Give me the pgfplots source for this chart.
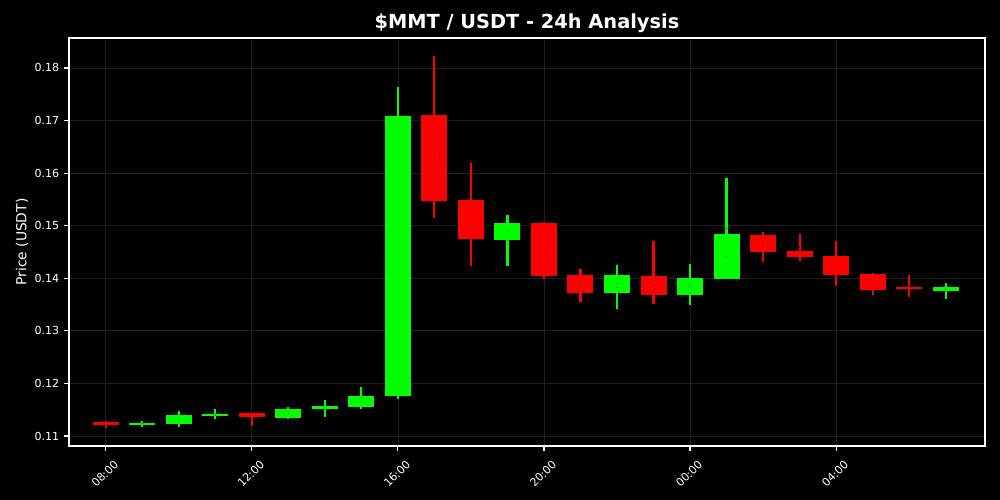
\documentclass[border=0pt]{standalone}
\usepackage{pgfplots}
\pgfplotsset{compat=1.18}
\usepackage{pgfplotstable}
\usepackage{fontspec}
\setmainfont{DejaVu Sans}
\definecolor{cgreen}{HTML}{00FF00}
\definecolor{cred}{HTML}{FF0000}
\definecolor{gridc}{HTML}{1E1E1E}

\pgfplotstableread{
x o h l c
1 0.11215 0.1129 0.1118 0.11247
2 0.11234 0.11476 0.11171 0.11405
3 0.11380 0.1151 0.1132 0.11413
5 0.11348 0.11546 0.11323 0.11514
6 0.11519 0.11685 0.11367 0.11576
7 0.11557 0.11938 0.11514 0.11767
8 0.11761 0.17644 0.1170 0.17087
11 0.14728 0.15204 0.14240 0.15058
14 0.13726 0.14253 0.13410 0.14063
16 0.13682 0.14272 0.13492 0.14006
17 0.13987 0.15908 0.13987 0.14843
23 0.13758 0.13910 0.13606 0.13834
}\greentab

\pgfplotstableread{
x o h l c
0 0.11266 0.1129 0.1116 0.11215
4 0.11432 0.11440 0.11196 0.11367
9 0.17112 0.18234 0.15153 0.15470
10 0.15489 0.16187 0.14240 0.14747
12 0.15058 0.15076 0.13981 0.14044
13 0.14063 0.14171 0.13555 0.13726
15 0.14044 0.14709 0.13511 0.13682
18 0.14824 0.14881 0.14310 0.14506
19 0.14519 0.14843 0.14329 0.14405
20 0.14424 0.14709 0.13853 0.14063
21 0.14082 0.14101 0.13682 0.13777
22 0.13834 0.14063 0.13644 0.13796
}\redtab

\pgfplotsset{
  candle/.style 2 args={only marks, mark=*, mark size=0.01pt,
    mark options={draw=none, fill=none},
    error bars/.cd, y dir=both, y explicit, error mark=none,
    error bar style={line width=#2, color=#1}},
}

\begin{document}
\begin{tikzpicture}
\fill[black] (0,0) rectangle (10in,5in);
\begin{axis}[
  at={(0.69in,0.54in)}, anchor=south west,
  scale only axis, width=9.16in, height=4.08in,
  xmin=-1.01, xmax=24.08,
  ymin=0.1081, ymax=0.1857,
  axis background/.style={fill=black},
  axis line style={white, line width=0.8pt},
  tick style={white, line width=0.8pt},
  major tick length=3.5pt,
  tick align=outside, tick pos=left,
  xtick={0,4,8,12,16,20},
  xticklabels={08:00,12:00,16:00,20:00,00:00,04:00},
  ytick={0.11,0.12,0.13,0.14,0.15,0.16,0.17,0.18},
  scaled y ticks=false,
  yticklabel style={/pgf/number format/fixed, /pgf/number format/precision=2, /pgf/number format/fixed zerofill, /pgf/number format/assume math mode=true},
  ticklabel style={white, font=\fontsize{8}{10}\selectfont},
  xticklabel style={yshift=-0.23in, xshift=-0.01in, rotate=45, anchor=center},
  grid=major, grid style={color=gridc, line width=0.6pt},
  ylabel={Price (USDT)},
  every axis y label/.style={at={(axis description cs:-0.0513,0.5)}, rotate=90, anchor=center, white, font=\fontsize{10}{12}\selectfont},
  title={\$MMT / USDT - 24h Analysis},
  every axis title/.style={at={(axis description cs:0.5,1)}, anchor=center, yshift=0.15in, white, font=\bfseries\fontsize{14}{16}\selectfont},
]
% wicks
\addplot[candle={cgreen}{1.5pt}]
  table[x=x, y expr={(\thisrow{h}+\thisrow{l})/2}, y error expr={(\thisrow{h}-\thisrow{l})/2}] {\greentab};
\addplot[candle={cred}{1.5pt}]
  table[x=x, y expr={(\thisrow{h}+\thisrow{l})/2}, y error expr={(\thisrow{h}-\thisrow{l})/2}] {\redtab};
% bodies
\addplot[candle={cgreen}{0.26in}]
  table[x=x, y expr={(\thisrow{o}+\thisrow{c})/2}, y error expr={abs(\thisrow{c}-\thisrow{o})/2}] {\greentab};
\addplot[candle={cred}{0.26in}]
  table[x=x, y expr={(\thisrow{o}+\thisrow{c})/2}, y error expr={abs(\thisrow{c}-\thisrow{o})/2}] {\redtab};
\end{axis}
\end{tikzpicture}
\end{document}
